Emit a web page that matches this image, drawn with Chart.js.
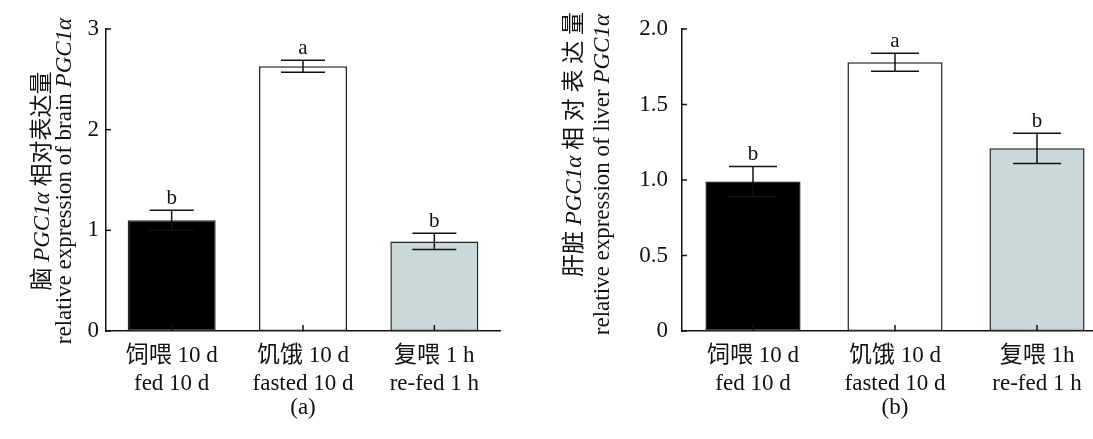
<!DOCTYPE html>
<html>
<head>
<meta charset="utf-8">
<script src="https://cdn.jsdelivr.net/npm/chart.js@4.4.0/dist/chart.umd.min.js"></script>
<style>
  html, body { margin: 0; padding: 0; background: #fff; overflow: hidden; }
  #wrap { position: relative; width: 1093px; height: 439px; overflow: hidden; }
  .panel { position: absolute; top: 0; height: 439px; }
</style>
</head>
<body>
<div id="wrap">
  <div class="panel" style="left:0;width:546px"><canvas id="brain"></canvas></div>
  <div class="panel" style="left:548px;width:560px"><canvas id="liver"></canvas></div>
</div>
<script>
// data
const brainCategories = [['饲喂 10 d', 'fed 10 d'], ['饥饿 10 d', 'fasted 10 d'], ['复喂 1 h', 're-fed 1 h']];
const liverCategories = [['饲喂 10 d', 'fed 10 d'], ['饥饿 10 d', 'fasted 10 d'], ['复喂 1h', 're-fed 1 h']];
const brainMeans = [1.10, 2.63, 0.89];
const brainErrors = [0.10, 0.06, 0.08];
const brainLetters = ['b', 'a', 'b'];
const liverMeans = [0.99, 1.78, 1.21];
const liverErrors = [0.10, 0.06, 0.10];
const liverLetters = ['b', 'a', 'b'];
const brainTicks = [0, 1, 2, 3];
const liverTicks = [0, 0.5, 1.0, 1.5, 2.0];

const barColors = ['#000000', '#ffffff', '#cbd8d8'];
const FONT = "'Liberation Serif', 'Times New Roman', 'Noto Sans CJK SC', serif";

// rotated text reading bottom to top; 'end' puts its end at y, 'center' centres it on y
function drawTitle(ctx, x, y, align, parts, size) {
  ctx.save();
  ctx.translate(x, y);
  ctx.rotate(-Math.PI / 2);
  ctx.textBaseline = 'middle';
  ctx.fillStyle = '#111';
  let total = 0;
  parts.forEach(p => {
    ctx.font = (p.it ? 'italic ' : '') + size + 'px ' + FONT;
    total += ctx.measureText(p.t).width;
  });
  let pos = align === 'center' ? -total / 2 : -total;
  parts.forEach(p => {
    ctx.font = (p.it ? 'italic ' : '') + size + 'px ' + FONT;
    ctx.fillText(p.t, pos, 0);
    pos += ctx.measureText(p.t).width;
  });
  ctx.restore();
}

function overlay(errors, letters, titles, panelLabel, capHalf) {
  return {
    id: 'overlay',
    afterDatasetsDraw(chart) {
      const ctx = chart.ctx;
      const area = chart.chartArea;
      const ys = chart.scales.y;
      const meta = chart.getDatasetMeta(0);
      const values = chart.data.datasets[0].data;
      ctx.save();
      ctx.strokeStyle = '#111';
      ctx.lineWidth = 1.5;
      const seg = (x1, y1, x2, y2) => { ctx.beginPath(); ctx.moveTo(x1, y1); ctx.lineTo(x2, y2); ctx.stroke(); };
      // inward ticks
      ys.ticks.forEach(t => {
        const py = ys.getPixelForValue(t.value);
        seg(area.left, py, area.left + 5, py);
      });
      meta.data.forEach(bar => seg(bar.x, area.bottom, bar.x, area.bottom - 6));
      // error bars + letters
      ctx.fillStyle = '#111';
      ctx.font = '21px ' + FONT;
      ctx.textAlign = 'center';
      ctx.textBaseline = 'alphabetic';
      meta.data.forEach((bar, i) => {
        const top = ys.getPixelForValue(values[i] + errors[i]);
        const bot = ys.getPixelForValue(values[i] - errors[i]);
        seg(bar.x, top, bar.x, bot);
        seg(bar.x - capHalf, top, bar.x + capHalf, top);
        seg(bar.x - capHalf, bot, bar.x + capHalf, bot);
        ctx.fillText(letters[i], bar.x, top - 6);
      });
      ctx.restore();
    },
    afterDraw(chart) {
      const ctx = chart.ctx;
      const meta = chart.getDatasetMeta(0);
      titles.forEach(tl => drawTitle(ctx, tl.x, tl.y, tl.align, tl.parts, 23));
      ctx.save();
      ctx.fillStyle = '#111';
      ctx.font = '23px ' + FONT;
      ctx.textAlign = 'center';
      ctx.textBaseline = 'middle';
      ctx.fillText(panelLabel, meta.data[1].x, 408);
      ctx.restore();
    }
  };
}

function makeChart(id, cats, means, errors, letters, ticks, max, axisWidth, padRight, tickPad, capHalf, titles, panelLabel, fmt) {
  return new Chart(document.getElementById(id), {
    type: 'bar',
    data: {
      labels: cats,
      datasets: [{
        data: means,
        backgroundColor: barColors,
        borderColor: '#222',
        borderWidth: 1.5,
        borderSkipped: false,
        categoryPercentage: 1,
        barPercentage: 0.67
      }]
    },
    options: {
      responsive: true,
      maintainAspectRatio: false,
      animation: false,
      layout: { padding: { top: 29, right: padRight, left: 0, bottom: 0 } },
      plugins: { legend: { display: false }, tooltip: { enabled: false } },
      scales: {
        x: {
          grid: { display: false, drawTicks: false },
          border: { display: true, color: '#111', width: 1.5 },
          ticks: { color: '#111', padding: 11, maxRotation: 0, font: { family: FONT, size: 23, lineHeight: 1.22 } },
          afterFit: s => { s.height = 108; }
        },
        y: {
          min: 0,
          max: max,
          grid: { display: false, drawTicks: false },
          border: { display: true, color: '#111', width: 1.5 },
          afterBuildTicks: s => { s.ticks = ticks.map(v => ({ value: v })); },
          ticks: { color: '#111', padding: tickPad, font: { family: FONT, size: 23 }, callback: fmt },
          afterFit: s => { s.width = axisWidth; }
        }
      }
    },
    plugins: [overlay(errors, letters, titles, panelLabel, capHalf)]
  });
}

makeChart('brain', brainCategories, brainMeans, brainErrors, brainLetters, brainTicks, 3, 106, 46, 7, 22,
  [
    { x: 43, y: 181, align: 'center', parts: [{ t: '脑 ' }, { t: 'PGC1α', it: true }, { t: ' 相对表达量' }] },
    { x: 65, y: 181, align: 'center', parts: [{ t: 'relative expression of brain ' }, { t: 'PGC1α', it: true }] }
  ], '(a)', v => String(v));

makeChart('liver', liverCategories, liverMeans, liverErrors, liverLetters, liverTicks, 2, 134, 0, 14, 24,
  [
    { x: 27, y: 12, align: 'end', parts: [{ t: '肝脏 ' }, { t: 'PGC1α', it: true }, { t: ' 相 对 表 达 量' }] },
    { x: 55, y: 14, align: 'end', parts: [{ t: 'relative expression of liver ' }, { t: 'PGC1α', it: true }] }
  ], '(b)', v => (v === 0 ? '0' : v.toFixed(1)));
</script>
</body>
</html>
